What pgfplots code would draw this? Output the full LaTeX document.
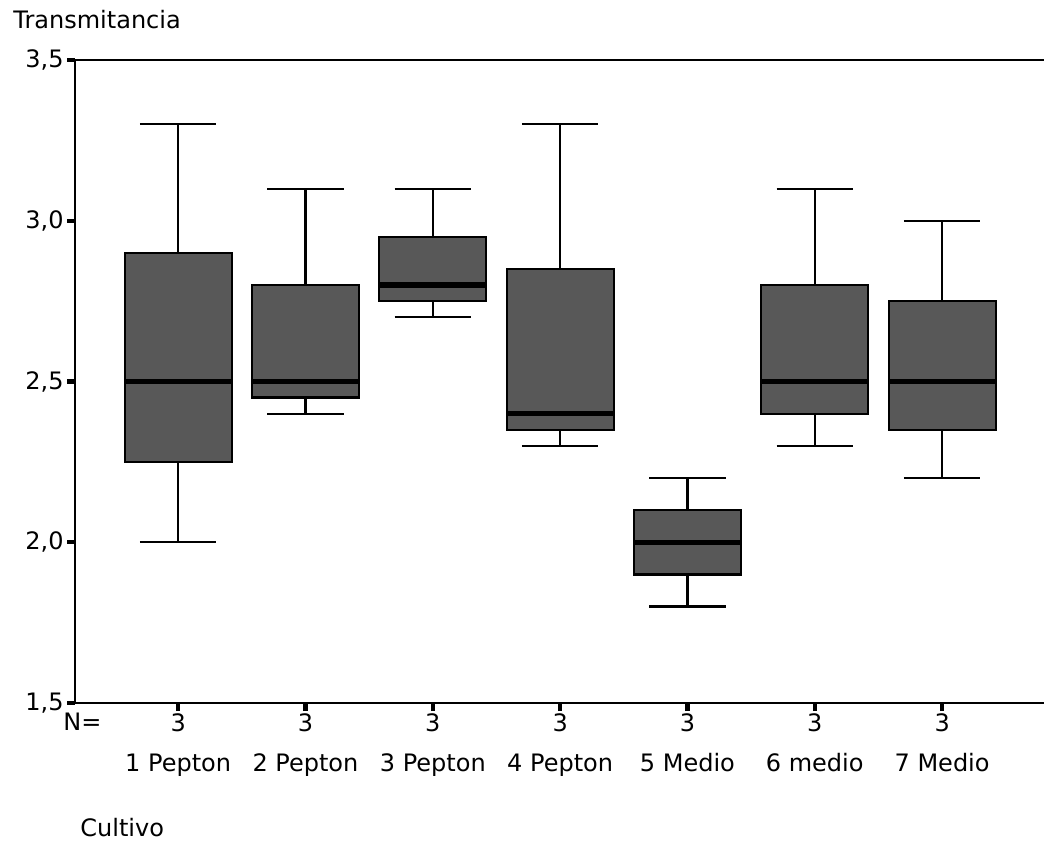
\documentclass[border=0pt]{standalone}
\usepackage{fontspec}
\setmainfont{DejaVu Sans}
\usepackage{pgfplots}
\pgfplotsset{compat=1.18}
\usepgfplotslibrary{statistics}
\definecolor{boxgray}{HTML}{585858}
\pgfplotsset{
  boxplot/every box/.style={fill=boxgray, draw=black, line width=1.1pt},
  boxplot/every whisker/.style={line width=1.1pt},
  boxplot/every median/.style={line width=2.6pt},
}
\begin{document}
\fontsize{12}{14}\selectfont
\begin{tikzpicture}
\begin{axis}[
  scale only axis, width=484.5pt, height=321.5pt,
  xmin=0.19, xmax=7.8, ymin=1.5, ymax=3.5,
  axis x line*=bottom, axis y line*=left,
  axis line style={-, line width=1.2pt, black},
  ytick={1.5,2,2.5,3,3.5},
  yticklabel style={xshift=2.5pt, /pgf/number format/.cd, fixed, fixed zerofill, precision=1, use comma, assume math mode=true},
  xtick={1,2,3,4,5,6,7},
  xticklabels={{3\\[6pt]1 Pepton},{3\\[6pt]2 Pepton},{3\\[6pt]3 Pepton},{3\\[6pt]4 Pepton},{3\\[6pt]5 Medio},{3\\[6pt]6 medio},{3\\[6pt]7 Medio}},
  xticklabel style={align=center, anchor=north, inner sep=1pt},
  major tick style={line width=2.2pt, black},
  major tick length=4pt, tick align=outside, tick pos=left,
  tick label style={font=\fontsize{12}{14}\selectfont},
  boxplot/draw direction=y,
  clip=false,
]
\addplot[black, boxplot prepared={lower whisker=2.0, lower quartile=2.25, median=2.5, upper quartile=2.9, upper whisker=3.3, draw position=1, box extend=0.84, whisker extend=0.6}] coordinates {};
\addplot[black, boxplot prepared={lower whisker=2.4, lower quartile=2.45, median=2.5, upper quartile=2.8, upper whisker=3.1, draw position=2, box extend=0.84, whisker extend=0.6}] coordinates {};
\addplot[black, boxplot prepared={lower whisker=2.7, lower quartile=2.75, median=2.8, upper quartile=2.95, upper whisker=3.1, draw position=3, box extend=0.84, whisker extend=0.6}] coordinates {};
\addplot[black, boxplot prepared={lower whisker=2.3, lower quartile=2.35, median=2.4, upper quartile=2.85, upper whisker=3.3, draw position=4, box extend=0.84, whisker extend=0.6}] coordinates {};
\addplot[black, boxplot prepared={lower whisker=1.8, lower quartile=1.9, median=2.0, upper quartile=2.1, upper whisker=2.2, draw position=5, box extend=0.84, whisker extend=0.6}] coordinates {};
\addplot[black, boxplot prepared={lower whisker=2.3, lower quartile=2.4, median=2.5, upper quartile=2.8, upper whisker=3.1, draw position=6, box extend=0.84, whisker extend=0.6}] coordinates {};
\addplot[black, boxplot prepared={lower whisker=2.2, lower quartile=2.35, median=2.5, upper quartile=2.75, upper whisker=3.0, draw position=7, box extend=0.84, whisker extend=0.6}] coordinates {};
\draw[line width=1.2pt, black] (rel axis cs:0,1) -- (rel axis cs:1,1);
\coordinate (SW) at (rel axis cs:0,0);
\node[anchor=west, inner sep=0pt] at ([shift={(-31pt,20pt)}]rel axis cs:0,1) {Transmitancia};
\node[anchor=west, inner sep=0pt] at ([shift={(2.5pt,-62.5pt)}]rel axis cs:0,0) {Cultivo};
\node[anchor=north west, inner sep=1pt] at ([shift={(-7pt,-4pt)}]rel axis cs:0,0) {N=};
\end{axis}
\pgfresetboundingbox
\path[use as bounding box] ([shift={(-37.5pt,-70pt)}]SW) rectangle ([shift={(484.5pt,351.5pt)}]SW);
\end{tikzpicture}
\end{document}
